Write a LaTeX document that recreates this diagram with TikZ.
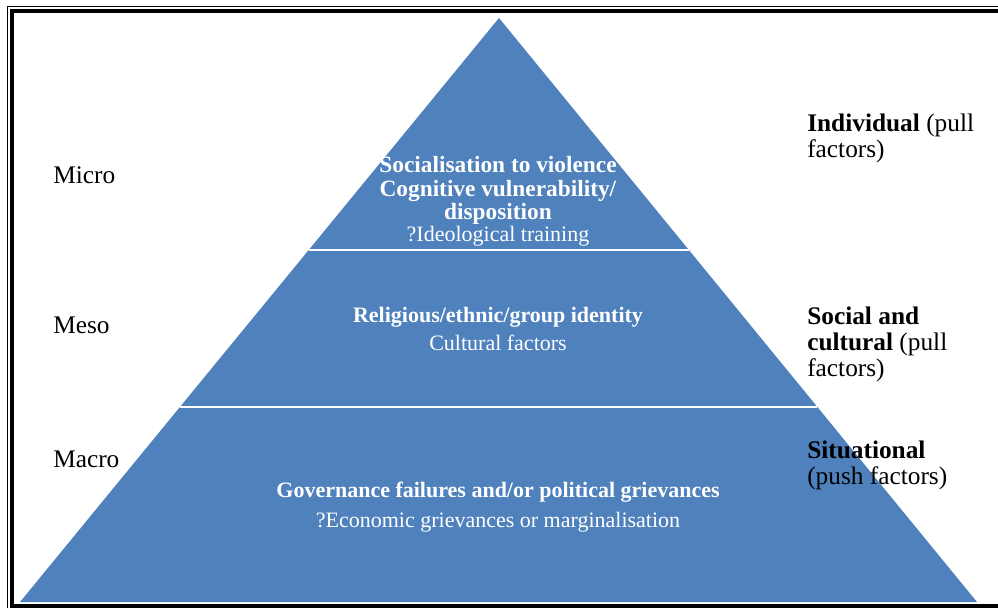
\documentclass[tikz,border=0pt]{standalone}
\usepackage{fontspec}
\setmainfont{Liberation Serif}
\usetikzlibrary{positioning}
\usetikzlibrary{calc}
\definecolor{pyrblue}{HTML}{4F81BD}

\tikzset{
  tiertext/.style={text=white, align=center, inner sep=0pt,
    font=\fontsize{16.5}{21}\selectfont},
  leveltext/.style={anchor=west, inner sep=0pt,
    font=\fontsize{19}{19.5}\selectfont},
  sidetext/.style={anchor=north west, align=left, inner sep=0pt,
    font=\fontsize{19}{19.5}\selectfont},
  divider/.style={white, line width=1.5pt}
}

\begin{document}
\begin{tikzpicture}[x=0.75pt,y=-0.75pt]
  \useasboundingbox (0,0) rectangle (998,608);

  % frame
  \draw[line width=0.75pt] (7,608) -- (7,6) -- (998,6);
  \draw[line width=3pt] (12,608) -- (12,11) -- (998,11);
  \draw[line width=3pt] (12,606) -- (998,606);

  % pyramid
  \coordinate (apex) at (499,18);
  \coordinate (bl) at (20,602);
  \coordinate (br) at (977,602);
  \fill[pyrblue] (apex) -- (br) -- (bl) -- cycle;

  \draw[divider] ($(apex)!{232/584}!(bl)$) -- ($(apex)!{232/584}!(br)$);
  \draw[divider] ($(apex)!{389/584}!(bl)$) -- ($(apex)!{389/584}!(br)$);

  % tiers
  \node[tiertext] (micro) at (498,201) {\fontsize{17.5}{21}\selectfont\textbf{Socialisation to violence}\\[-3pt]
    \fontsize{17.5}{21}\selectfont\textbf{Cognitive vulnerability/}\\[-4pt]
    \fontsize{17.5}{21}\selectfont\textbf{disposition}\\[-4.5pt]
    ?Ideological training};
  \node[tiertext] (meso) at (498,329) {\textbf{Religious/ethnic/group identity}\\[-0.5pt]
    Cultural factors};
  \node[tiertext] (macro) at (498,507) {\textbf{Governance failures and/or political grievances}\\[1.25pt]
    ?Economic grievances or marginalisation};

  % levels
  \node[leveltext] (lmicro) at (53,175) {Micro};
  \node[leveltext] (lmeso) at (53,325) {Meso};
  \node[leveltext] (lmacro) at (53,459) {Macro};

  % factors
  \node[sidetext] (findiv) at (807,114) {\textbf{Individual} (pull\\factors)};
  \node[sidetext] (fsocial) at (807,307) {\textbf{Social and}\\\textbf{cultural} (pull\\factors)};
  \node[sidetext] (fsitu) at (807,441) {\textbf{Situational}\\(push factors)};
\end{tikzpicture}
\end{document}
